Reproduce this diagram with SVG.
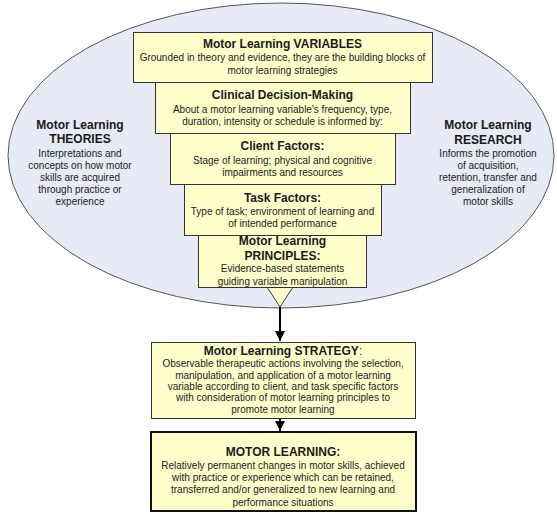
<svg xmlns="http://www.w3.org/2000/svg" width="557" height="514" viewBox="0 0 557 514">
<defs>
<style>
.box{fill:#ffffcc;stroke:#333;stroke-width:1}
.t{font-family:"Liberation Sans",Arial,sans-serif;font-size:12px;font-weight:bold;fill:#1a1a1a;text-anchor:middle}
.b{font-family:"Liberation Sans",Arial,sans-serif;font-size:10px;fill:#222;text-anchor:middle}
.conn{stroke:#000;stroke-width:2;fill:none}
</style>
<marker id="ah" viewBox="0 0 10 10" refX="10" refY="5" markerWidth="5" markerHeight="5" markerUnits="strokeWidth" orient="auto">
<path d="M0,0 L10,5 L0,10 z" fill="#000"/>
</marker>
</defs>
<rect width="557" height="514" fill="#fff"/>
<g id="ellipse">
<ellipse cx="281" cy="155.5" rx="273" ry="152.5" fill="#e6ebf6" stroke="#555" stroke-width="1"/>
</g>
<g id="theories">
<text class="t" x="80" y="129">Motor Learning</text>
<text class="t" x="80" y="143">THEORIES</text>
<text class="b" x="80" y="157">Interpretations and</text>
<text class="b" x="80" y="169">concepts on how motor</text>
<text class="b" x="80" y="181">skills are acquired</text>
<text class="b" x="80" y="193">through practice or</text>
<text class="b" x="80" y="205">experience</text>
</g>
<g id="research">
<text class="t" x="488" y="129">Motor Learning</text>
<text class="t" x="488" y="144">RESEARCH</text>
<text class="b" x="488" y="157">Informs the promotion</text>
<text class="b" x="488" y="169">of acquisition,</text>
<text class="b" x="488" y="181">retention, transfer and</text>
<text class="b" x="488" y="193">generalization of</text>
<text class="b" x="488" y="205">motor skills</text>
</g>
<g id="triangle">
<polygon points="267,287 293,287 280,307" fill="#ffffcc" stroke="#444" stroke-width="1"/>
</g>
<g id="variables">
<rect class="box" x="133.5" y="32.5" width="299" height="50"/>
<text class="t" x="282.5" y="48">Motor Learning VARIABLES</text>
<text class="b" x="282.5" y="61">Grounded in theory and evidence, they are the building blocks of</text>
<text class="b" x="282.5" y="74">motor learning strategies</text>
</g>
<g id="decision">
<rect class="box" x="155.5" y="82.5" width="255" height="51"/>
<text class="t" x="282.5" y="99">Clinical Decision-Making</text>
<text class="b" x="282.5" y="113">About a motor learning variable's frequency, type,</text>
<text class="b" x="282.5" y="125">duration, intensity or schedule is informed by:</text>
</g>
<g id="client">
<rect class="box" x="170.5" y="133.5" width="225" height="51"/>
<text class="t" x="282.5" y="150">Client Factors:</text>
<text class="b" x="282.5" y="164">Stage of learning; physical and cognitive</text>
<text class="b" x="282.5" y="176">impairments and resources</text>
</g>
<g id="task">
<rect class="box" x="184.5" y="184.5" width="197" height="51"/>
<text class="t" x="282.5" y="202">Task Factors:</text>
<text class="b" x="282.5" y="215">Type of task; environment of learning and</text>
<text class="b" x="282.5" y="227">of intended performance</text>
</g>
<g id="principles">
<rect class="box" x="198.5" y="235.5" width="168" height="52"/>
<text class="t" x="282.5" y="245">Motor Learning</text>
<text class="t" x="282.5" y="260">PRINCIPLES:</text>
<text class="b" x="282.5" y="272">Evidence-based statements</text>
<text class="b" x="282.5" y="285">guiding variable manipulation</text>
</g>
<g id="connectors">
<line class="conn" x1="280" y1="307" x2="280" y2="341" marker-end="url(#ah)"/>
<line class="conn" x1="280" y1="418" x2="280" y2="431" marker-end="url(#ah)"/>
</g>
<g id="strategy">
<rect class="box" x="151.5" y="342.5" width="264" height="76"/>
<text class="t" x="283" y="355">Motor Learning STRATEGY<tspan font-weight="normal">:</tspan></text>
<text class="b" x="283" y="367">Observable therapeutic actions involving the selection,</text>
<text class="b" x="283" y="379">manipulation, and application of a motor learning</text>
<text class="b" x="283" y="390">variable according to client, and task specific factors</text>
<text class="b" x="283" y="401">with consideration of motor learning principles to</text>
<text class="b" x="283" y="413">promote motor learning</text>
</g>
<g id="motorlearning">
<rect x="151" y="432" width="265" height="79" fill="#ffffcc" stroke="#111" stroke-width="2"/>
<text class="t" x="283" y="456">MOTOR LEARNING:</text>
<text class="b" x="283" y="469">Relatively permanent changes in motor skills, achieved</text>
<text class="b" x="283" y="481">with practice or experience which can be retained,</text>
<text class="b" x="283" y="493">transferred and/or generalized to new learning and</text>
<text class="b" x="283" y="506">performance situations</text>
</g>
</svg>
